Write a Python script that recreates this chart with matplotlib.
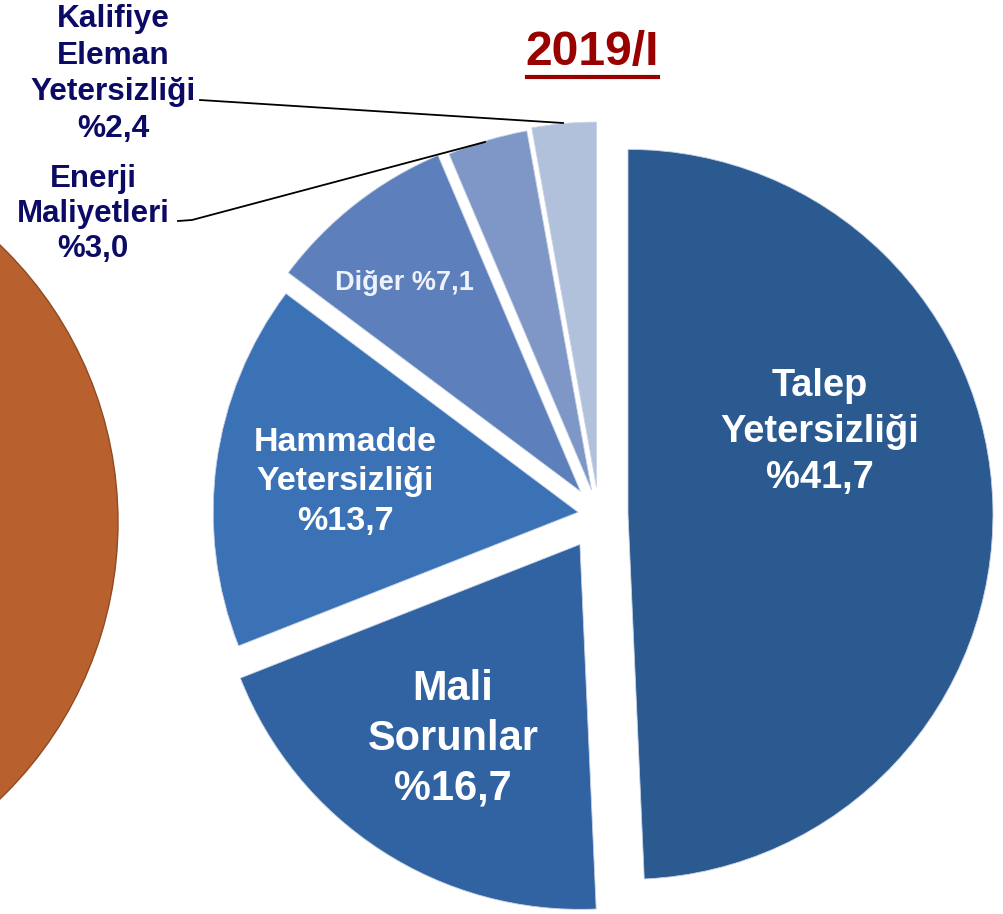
import numpy as np
import matplotlib
matplotlib.use('Agg')
import matplotlib.pyplot as plt
from matplotlib.patches import Circle

# ---- data ----
categories = ['Talep\nYetersizliği', 'Mali\nSorunlar', 'Hammadde\nYetersizliği',
              'Diğer', 'Enerji\nMaliyetleri', 'Kalifiye\nEleman\nYetersizliği']
values = [41.7, 16.7, 13.7, 7.1, 3.0, 2.4]
value_texts = ['%41,7', '%16,7', '%13,7', '%7,1', '%3,0', '%2,4']
title = '2019/I'

# ---- styling ----
colors = ['#2B5A91', '#3163A2', '#3B72B6', '#5D80BC', '#7E97C6', '#B1C1DB']
explode = [29, 35, 21, 30, 26, 28]

W, H = 1004, 914
fig = plt.figure(figsize=(W / 100, H / 100), dpi=100)
ax = fig.add_axes([0, 0, 1, 1])

def Y(py):
    return H - py

plt.rcParams['font.family'] = ['Liberation Sans', 'DejaVu Sans']

# partial orange pie on the left (neighbouring chart)
ax.add_patch(Circle((-266, Y(522)), 384, facecolor='#B8612F', edgecolor='#8E4A25', lw=1.0))

wedges, _ = ax.pie(values, colors=colors, startangle=90, counterclock=False,
                   radius=365, center=(599, Y(515)), explode=explode,
                   wedgeprops=dict(linewidth=0.6, edgecolor='#C9D3E6'))

ax.set_xlim(0, W)
ax.set_ylim(0, H)
ax.set_aspect('equal')
ax.axis('off')

bold = dict(fontweight='bold', ha='center', va='center')

ax.text(820, Y(432), categories[0] + '\n' + value_texts[0], color='white', fontsize=27.4, linespacing=1.36, **bold)
ax.text(453, Y(739), categories[1] + '\n' + value_texts[1], color='white', fontsize=29.9, linespacing=1.32, **bold)
ax.text(345, Y(482), categories[2] + '\n' + value_texts[2], color='white', fontsize=24.5, linespacing=1.37, **bold)
ax.text(404, Y(283), categories[3] + ' ' + value_texts[3], color='#EEF2FA', fontsize=19.5, **bold)

navy = '#0B0B66'
ax.text(93, Y(214), categories[4] + '\n' + value_texts[4], color=navy, fontsize=22.5, linespacing=1.22, **bold)
ax.text(113, Y(74), categories[5] + '\n' + value_texts[5], color=navy, fontsize=22.8, linespacing=1.28, **bold)

# leader lines
ax.plot([200, 563], [Y(100), Y(123)], color='black', lw=1.3)
ax.plot([178, 192, 485], [Y(221), Y(220), Y(142)], color='black', lw=1.3)

# title with underline
ax.text(592, Y(52), title, color='#990000', fontsize=34.6, fontweight='bold', ha='center', va='center')
ax.plot([527, 658], [Y(77), Y(77)], color='#990000', lw=3)

fig.savefig('out.png', dpi=100)
